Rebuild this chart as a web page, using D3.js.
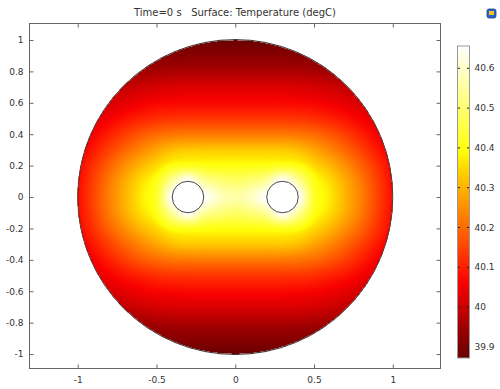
<!DOCTYPE html>
<html>
<head>
<meta charset="utf-8">
<script src="https://cdn.jsdelivr.net/npm/d3@7"></script>
<style>
  body { margin: 0; background: #fff; }
  svg { display: block; }
  text { font-family: "DejaVu Sans", sans-serif; fill: #333; }
</style>
</head>
<body>
<div id="chart"></div>
<script>
// Temperature (degC) on a 0.1 grid over the quadrant x >= 0, y >= 0.
// Rows are y = 0, 0.1, ..., 1.1; columns are x = 0, 0.1, ..., 1.1.
// The field is symmetric about both axes.
const gridStep = 0.1;
const tempRows = [
  [40.56, 40.59, 40.656, 40.68, 40.656, 40.43, 40.37, 40.30, 40.23, 40.15, 40.075, 40.03],
  [40.49, 40.51, 40.55, 40.656, 40.55, 40.41, 40.355, 40.29, 40.22, 40.145, 40.072, 40.028],
  [40.40, 40.40, 40.405, 40.415, 40.40, 40.35, 40.305, 40.25, 40.19, 40.125, 40.065, 40.02],
  [40.33, 40.33, 40.33, 40.33, 40.315, 40.28, 40.24, 40.195, 40.145, 40.092, 40.045, 40.005],
  [40.22, 40.22, 40.22, 40.22, 40.215, 40.20, 40.175, 40.14, 40.10, 40.06, 40.02, 39.985],
  [40.13, 40.13, 40.13, 40.13, 40.128, 40.12, 40.103, 40.083, 40.058, 40.028, 39.995, 39.962],
  [40.07, 40.07, 40.07, 40.07, 40.068, 40.063, 40.052, 40.036, 40.013, 39.99, 39.962, 39.93],
  [40.02, 40.02, 40.02, 40.02, 40.019, 40.012, 40.002, 39.988, 39.97, 39.95, 39.925, 39.905],
  [39.965, 39.965, 39.965, 39.965, 39.963, 39.958, 39.95, 39.94, 39.925, 39.907, 39.885, 39.865],
  [39.915, 39.915, 39.915, 39.915, 39.913, 39.91, 39.903, 39.893, 39.883, 39.87, 39.86, 39.85],
  [39.875, 39.875, 39.875, 39.875, 39.873, 39.87, 39.865, 39.86, 39.855, 39.85, 39.845, 39.84],
  [39.84, 39.84, 39.84, 39.84, 39.838, 39.835, 39.83, 39.825, 39.82, 39.815, 39.81, 39.80]
];

// Geometry: unit disk with two circular holes on the x axis
const diskRadius = 1;
const holeCentersX = [-0.3, 0.3];
const holeRadius = 0.1;

// Axis ticks
const xTicks = [-1, -0.5, 0, 0.5, 1];
const yTicks = [-1, -0.8, -0.6, -0.4, -0.2, 0, 0.2, 0.4, 0.6, 0.8, 1];
const colorbarTicks = [39.9, 40, 40.1, 40.2, 40.3, 40.4, 40.5, 40.6];
const tempRange = [39.872, 40.656];

// Colour table (thermal light)
const colorTemps = [39.872, 39.9, 39.95, 40.0, 40.06, 40.1, 40.2, 40.3, 40.36, 40.39, 40.5, 40.6, 40.656];
const colorHex = ["#680000", "#7e0000", "#a00000", "#cc0000", "#f80000", "#ff1e00", "#ff6a00",
                  "#ffb300", "#ffe000", "#ffff08", "#ffff70", "#ffffcc", "#ffffff"];

const titleText = "Time=0 s   Surface: Temperature (degC)";

const W = 500, H = 389;
const plot = { left: 29.5, right: 440.5, top: 23.5, bottom: 368.5 };

const x = d3.scaleLinear().domain([-1.306, 1.303]).range([plot.left, plot.right]);
const y = d3.scaleLinear().domain([-1.092, 1.105]).range([plot.bottom, plot.top]);
const color = d3.scaleLinear().domain(colorTemps).range(colorHex)
  .interpolate(d3.interpolateRgb).clamp(true);

// Full mirrored grid, coordinates -1.1 .. 1.1
const nQ = tempRows.length;
const nFull = 2 * nQ - 1;
const gridOrigin = -(nQ - 1) * gridStep;
const fullGrid = d3.range(nFull).map(j =>
  d3.range(nFull).map(i => tempRows[Math.abs(j - (nQ - 1))][Math.abs(i - (nQ - 1))]));

// Catmull-Rom interpolation between grid samples
function cr(p0, p1, p2, p3, t) {
  return 0.5 * (2 * p1 + (-p0 + p2) * t + (2 * p0 - 5 * p1 + 4 * p2 - p3) * t * t +
    (-p0 + 3 * p1 - 3 * p2 + p3) * t * t * t);
}
const clampIdx = k => Math.max(0, Math.min(nFull - 1, k));
function tempAt(px, py) {
  const fx = (px - gridOrigin) / gridStep, fy = (py - gridOrigin) / gridStep;
  const ix = Math.floor(fx), iy = Math.floor(fy);
  const tx = fx - ix, ty = fy - iy;
  const rows = [];
  for (let m = -1; m <= 2; m++) {
    const r = fullGrid[clampIdx(iy + m)];
    rows.push(cr(r[clampIdx(ix - 1)], r[clampIdx(ix)], r[clampIdx(ix + 1)], r[clampIdx(ix + 2)], tx));
  }
  return cr(rows[0], rows[1], rows[2], rows[3], ty);
}

const svg = d3.select("#chart").append("svg").attr("width", W).attr("height", H);

// Raster of the temperature surface
const cw = Math.round(plot.right - plot.left), ch = Math.round(plot.bottom - plot.top);
const canvas = document.createElement("canvas");
canvas.width = cw; canvas.height = ch;
const ctx = canvas.getContext("2d");
const img = ctx.createImageData(cw, ch);
for (let j = 0; j < ch; j++) {
  const dy = y.invert(plot.top + j + 0.5);
  for (let i = 0; i < cw; i++) {
    const dx = x.invert(plot.left + i + 0.5);
    if (dx * dx + dy * dy > diskRadius * diskRadius) continue;
    let inHole = false;
    for (const hx of holeCentersX) {
      if ((dx - hx) ** 2 + dy * dy < holeRadius * holeRadius) inHole = true;
    }
    if (inHole) continue;
    const c = d3.rgb(color(tempAt(dx, dy)));
    const k = 4 * (j * cw + i);
    img.data[k] = c.r; img.data[k + 1] = c.g; img.data[k + 2] = c.b; img.data[k + 3] = 255;
  }
}
ctx.putImageData(img, 0, 0);
svg.append("image")
  .attr("x", plot.left).attr("y", plot.top)
  .attr("width", cw).attr("height", ch)
  .attr("href", canvas.toDataURL());

// Boundaries
svg.append("circle")
  .attr("cx", x(0)).attr("cy", y(0))
  .attr("r", x(diskRadius) - x(0))
  .attr("fill", "none").attr("stroke", "#222").attr("stroke-width", 0.8);
svg.selectAll("circle.hole").data(holeCentersX).join("circle")
  .attr("class", "hole")
  .attr("cx", d => x(d)).attr("cy", y(0))
  .attr("r", x(holeRadius) - x(0))
  .attr("fill", "#fff").attr("stroke", "#333").attr("stroke-width", 0.9);

// Frame and axes (ticks point inward)
const fmt = d => String(d);
const axisColor = "#666";
function styleAxis(g) {
  g.select(".domain").remove();
  g.selectAll("line").attr("stroke", axisColor);
  g.selectAll("text").attr("fill", "#333").style("font-size", "9px")
    .style("font-family", '"DejaVu Sans", sans-serif');
}
svg.append("g").attr("transform", `translate(0,${plot.bottom})`)
  .call(d3.axisBottom(x).tickValues(xTicks).tickFormat(fmt).tickSize(-4).tickPadding(8))
  .call(styleAxis);
svg.append("g").attr("transform", `translate(0,${plot.top})`)
  .call(d3.axisTop(x).tickValues(xTicks).tickFormat("").tickSize(-4))
  .call(styleAxis);
svg.append("g").attr("transform", `translate(${plot.left},0)`)
  .call(d3.axisLeft(y).tickValues(yTicks).tickFormat(fmt).tickSize(-4).tickPadding(6))
  .call(styleAxis);
svg.append("g").attr("transform", `translate(${plot.right},0)`)
  .call(d3.axisRight(y).tickValues(yTicks).tickFormat("").tickSize(-4))
  .call(styleAxis);
svg.append("rect")
  .attr("x", plot.left).attr("y", plot.top)
  .attr("width", plot.right - plot.left).attr("height", plot.bottom - plot.top)
  .attr("fill", "none").attr("stroke", axisColor).attr("stroke-width", 1);

// Title
svg.append("text")
  .attr("x", (plot.left + plot.right) / 2).attr("y", 16)
  .attr("text-anchor", "middle").style("font-size", "10px")
  .style("white-space", "pre")
  .attr("fill", "#222")
  .text(titleText);

// Colour bar
const cb = { x: 457.5, w: 12, top: 46, bottom: 358 };
const cbScale = d3.scaleLinear().domain(tempRange).range([cb.bottom, cb.top]);
const grad = svg.append("defs").append("linearGradient")
  .attr("id", "cbGrad").attr("x1", 0).attr("y1", 1).attr("x2", 0).attr("y2", 0);
d3.range(0, 1.0001, 0.02).forEach(t => {
  const v = tempRange[0] + t * (tempRange[1] - tempRange[0]);
  grad.append("stop").attr("offset", t).attr("stop-color", color(v));
});
svg.append("rect")
  .attr("x", cb.x).attr("y", cb.top).attr("width", cb.w).attr("height", cb.bottom - cb.top)
  .attr("fill", "url(#cbGrad)").attr("stroke", "#999").attr("stroke-width", 1);
const cbTicks = svg.append("g");
cbTicks.selectAll("line.l").data(colorbarTicks).join("line")
  .attr("class", "l")
  .attr("x1", cb.x + 0.5).attr("x2", cb.x + 2.5)
  .attr("y1", d => cbScale(d)).attr("y2", d => cbScale(d))
  .attr("stroke", "#222").attr("stroke-width", 1);
cbTicks.selectAll("line.r").data(colorbarTicks).join("line")
  .attr("class", "r")
  .attr("x1", cb.x + cb.w - 2.5).attr("x2", cb.x + cb.w - 0.5)
  .attr("y1", d => cbScale(d)).attr("y2", d => cbScale(d))
  .attr("stroke", "#222").attr("stroke-width", 1);
cbTicks.selectAll("text").data(colorbarTicks).join("text")
  .attr("x", cb.x + cb.w + 5).attr("y", d => cbScale(d))
  .attr("dy", "0.35em").style("font-size", "9px")
  .text(d => String(d));

// Small window icon in the corner
const icon = svg.append("g").attr("transform", "translate(487,9)");
icon.append("rect").attr("width", 9).attr("height", 9).attr("rx", 2)
  .attr("fill", "#2a63c8").attr("stroke", "#1b3f8a").attr("stroke-width", 0.8);
icon.append("rect").attr("x", 2).attr("y", 2).attr("width", 5).attr("height", 4)
  .attr("fill", "#f3c02a");
</script>
</body>
</html>
